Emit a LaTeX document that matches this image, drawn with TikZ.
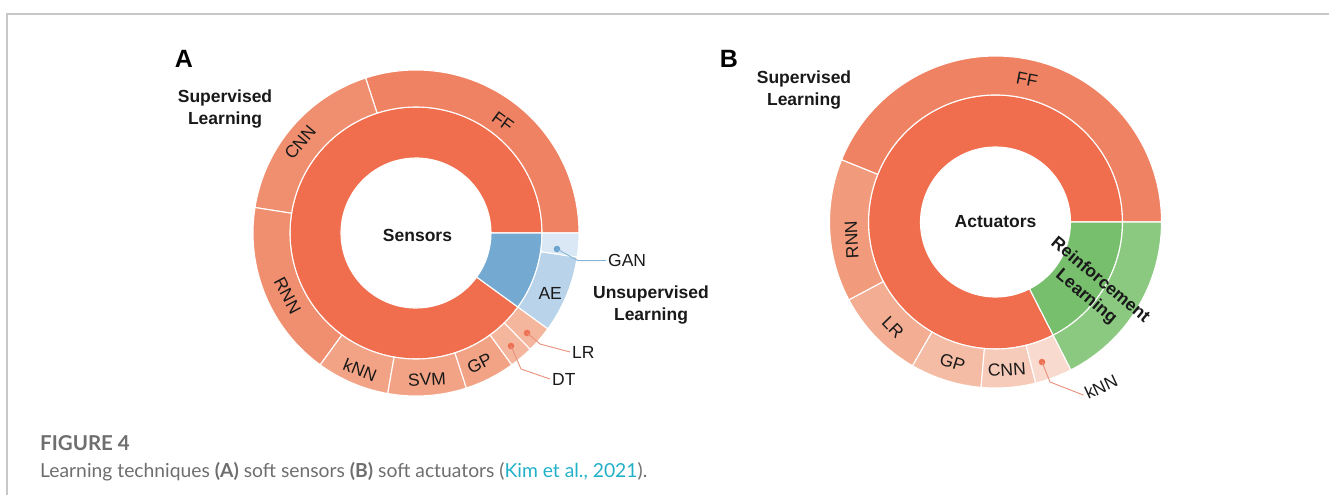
\documentclass[tikz,border=0pt]{standalone}
\usepackage{fontspec}
\setmainfont{Liberation Sans}
\newfontfamily\capfont{Lato}
\usepackage{xcolor}
\usepackage{tikz}

\definecolor{coreO}{HTML}{F06D4D}
\definecolor{ffO}{HTML}{EF8262}
\definecolor{cnnO}{HTML}{F08F70}
\definecolor{knnO}{HTML}{F3A385}
\definecolor{lrO}{HTML}{F5B69E}
\definecolor{coreB}{HTML}{74A9D2}
\definecolor{aeB}{HTML}{B9D3EA}
\definecolor{ganB}{HTML}{D9E8F4}
\definecolor{rnnO}{HTML}{F19B7C}
\definecolor{lrbO}{HTML}{F3AD92}
\definecolor{gpbO}{HTML}{F5BCA5}
\definecolor{cnnbO}{HTML}{F7CBB9}
\definecolor{knnbO}{HTML}{F9DACE}
\definecolor{coreG}{HTML}{77BE6D}
\definecolor{outG}{HTML}{8BC981}
\definecolor{dotO}{HTML}{EE7052}
\definecolor{lineO}{HTML}{E8907A}
\definecolor{dotBl}{HTML}{6AA3CF}
\definecolor{lineBl}{HTML}{86B5D8}
\definecolor{framegray}{HTML}{C8C8C8}
\definecolor{capgray}{HTML}{6E6E6E}
\definecolor{citeblue}{HTML}{22B0C8}

\tikzset{
  seg/.style={draw=white, line width=1.1pt},
  seglbl/.style={font=\fontsize{17.5}{20}\selectfont, text=black!90, inner sep=0pt},
  grouplbl/.style={font=\fontsize{17.5}{21.5}\selectfont\bfseries, align=center, text=black!90, inner sep=0pt},
  panellbl/.style={font=\fontsize{25}{28}\selectfont\bfseries, inner sep=0pt},
  outlbl/.style={font=\fontsize{17.5}{20}\selectfont, text=black!90, inner sep=2pt},
  dotmark/.style={circle, inner sep=0pt, minimum size=6.5pt},
  leader/.style={line width=0.9pt},
}

\begin{document}
\begin{tikzpicture}[x=1pt,y=1pt]
  \useasboundingbox (0,0) rectangle (1329,-495);
  \draw[framegray, line width=1.8pt] (7,-495) -- (7,-14) -- (1329,-14);

  % panel A
  \begin{scope}[shift={(416,-233)}]
    \foreach \a/\b/\c in {0/324/coreO, 324/360/coreB}
      \fill[seg, fill=\c] (\a:126) arc[start angle=\a, end angle=\b, radius=126] -- (\b:75) arc[start angle=\b, end angle=\a, radius=75] -- cycle;
    \foreach \a/\b/\c in {0/108/ffO, 108/171/cnnO, 171/234/cnnO, 234/260/knnO, 260/288/knnO, 288/306/knnO, 306/314.5/lrO, 314.5/324/lrO, 324/351.5/aeB, 351.5/360/ganB}
      \fill[seg, fill=\c] (\a:163) arc[start angle=\a, end angle=\b, radius=163] -- (\b:126) arc[start angle=\b, end angle=\a, radius=126] -- cycle;

    \node[panellbl] (panA) at (-232,174) {A};
    \node[grouplbl] (supA) at (-191,124) {Supervised\\Learning};
    \node[grouplbl] (unsupA) at (235,-72) {Unsupervised\\Learning};
    \node[grouplbl] (sensors) at (1.5,-2.5) {Sensors};

    \node[seglbl, rotate=-36] (ffA) at (52:141) {FF};
    \node[seglbl, rotate=50] (cnnA) at (142:147) {CNN};
    \node[seglbl, rotate=-62] (rnnA) at (206:143) {RNN};
    \node[seglbl, rotate=-22] (knnA) at (247.8:148) {kNN};
    \node[seglbl, rotate=3] (svmA) at (274.3:147) {SVM};
    \node[seglbl, rotate=27] (gpA) at (296:145) {GP};
    \node[seglbl] (aeA) at (335.9:147) {AE};

    \node[dotmark, fill=dotBl] (ganDot) at (141,-16) {};
    \node[dotmark, fill=dotO] (lrDot) at (111,-100) {};
    \node[dotmark, fill=dotO] (dtDot) at (95,-113) {};
    \node[outlbl, anchor=west] (ganA) at (190,-27.5) {GAN};
    \node[outlbl, anchor=west] (lrA) at (154,-119) {LR};
    \node[outlbl, anchor=west] (dtA) at (134,-146) {DT};
    \coordinate (ganBend) at (162,-27.7);
    \coordinate (lrBend) at (124,-111);
    \coordinate (dtBend) at (105,-136);
    \draw[leader, lineBl] (ganDot.center) -- (ganBend) -- (ganA.west);
    \draw[leader, lineO] (lrDot.center) -- (lrBend) -- (lrA.west);
    \draw[leader, lineO] (dtDot.center) -- (dtBend) -- (dtA.west);
  \end{scope}

  % panel B
  \begin{scope}[shift={(995.5,-222)}]
    \foreach \a/\b/\c in {0/297/coreO, 297/360/coreG}
      \fill[seg, fill=\c] (\a:127) arc[start angle=\a, end angle=\b, radius=127] -- (\b:75) arc[start angle=\b, end angle=\a, radius=75] -- cycle;
    \foreach \a/\b/\c in {0/158/ffO, 158/208/rnnO, 208/240/lrbO, 240/265/gpbO, 265/284/cnnbO, 284/297/knnbO, 297/360/outG}
      \fill[seg, fill=\c] (\a:166) arc[start angle=\a, end angle=\b, radius=166] -- (\b:127) arc[start angle=\b, end angle=\a, radius=127] -- cycle;

    \node[panellbl] (panB) at (-266.5,163) {B};
    \node[grouplbl] (supB) at (-191.5,132) {Supervised\\Learning};
    \node[grouplbl] (actuators) at (0,0) {Actuators};
    \node[grouplbl, rotate=-40] (reinfB) at (97.5,-67) {Reinforcement\\Learning};

    \node[seglbl, rotate=-11] (ffB) at (77.5:145.5) {FF};
    \node[seglbl, rotate=93] (rnnB) at (187:145) {RNN};
    \node[seglbl, rotate=-46] (lrB) at (225.7:146.7) {LR};
    \node[seglbl, rotate=-17.5] (gpB) at (253:147) {GP};
    \node[seglbl, rotate=4] (cnnB) at (274.4:148) {CNN};

    \node[dotmark, fill=dotO] (knnDot) at (46.5,-140) {};
    \node[outlbl, rotate=25] (knnB) at (105.5,-165) {kNN};
    \coordinate (knnBend) at (54.5,-160);
    \draw[leader, lineO] (knnDot.center) -- (knnBend) -- (knnB.west);
  \end{scope}

  % caption
  \node[font=\capfont\bfseries\fontsize{20.5}{24}\selectfont, text=capgray, anchor=base west, inner sep=0pt] (figno) at (40,-450) {FIGURE 4};
  \node[font=\capfont\fontsize{19.3}{23}\selectfont, text=capgray, anchor=base west, inner sep=0pt] (captext) at (40,-477) {Learning techniques \textbf{(A)} soft sensors \textbf{(B)} soft actuators (\textcolor{citeblue}{Kim et al., 2021}).};
\end{tikzpicture}
\end{document}
